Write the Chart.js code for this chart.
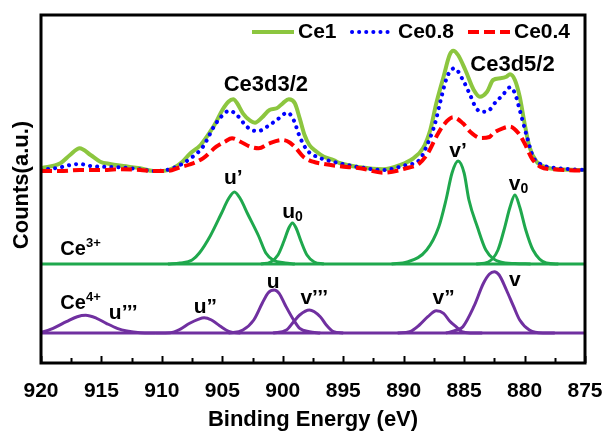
<!DOCTYPE html>
<html><head><meta charset="utf-8">
<script src="https://cdn.jsdelivr.net/npm/chart.js@4.4.0/dist/chart.umd.min.js"></script>
<style>html,body{margin:0;padding:0;background:#fff;}canvas{display:block;}</style>
</head><body>
<canvas id="c" width="604" height="431"></canvas>
<script>
const FONT = "'Liberation Sans', Arial, sans-serif";
const xTickLabels = [920, 915, 910, 905, 900, 895, 890, 885, 880, 875];

// Top spectra (stacked offset, arbitrary units)
const ce1Energy = [920, 918.4, 917.6, 916.8, 915.9, 915.1, 914.3, 913.2, 911.8, 910.7, 909.9, 909.1, 908.3, 907.7, 906.8, 906.0, 905.5, 905.0, 904.5, 904.1, 903.8, 903.3, 902.7, 902.3, 901.7, 901.1, 900.5, 900.0, 899.5, 899.0, 898.6, 898.2, 897.8, 897.2, 896.6, 895.8, 895.3, 893.6, 891.7, 890.3, 889.2, 888.4, 887.8, 887.3, 886.7, 886.2, 885.9, 885.5, 884.9, 884.2, 883.7, 883.1, 882.6, 882.0, 881.5, 881.2, 880.8, 880.4, 880.0, 879.6, 879.0, 878.2, 877.1, 875];
const ce1Counts = [194.7, 199.7, 208, 214.7, 208, 201.3, 199, 197, 194.7, 192, 192, 194.7, 201.3, 209, 218, 231.3, 241.3, 253, 261.3, 263.7, 260.3, 249.7, 242.3, 240.3, 245.7, 253, 254.7, 259.7, 263.7, 259.7, 244.7, 228, 218, 211.3, 206.3, 203, 200, 195.7, 193.7, 198, 204.7, 214.7, 233, 259.7, 286.3, 308, 312.3, 308, 293, 273, 266.3, 271.3, 283, 284.7, 286.3, 288.7, 283, 266.3, 239.7, 216.3, 201.3, 195.7, 193.7, 193];

const ce08Energy = [920, 918.4, 917.6, 916.8, 915.9, 915.1, 913.5, 911.8, 910.7, 909.6, 908.5, 907.7, 906.6, 905.7, 905.1, 904.4, 903.8, 903.1, 902.6, 902.0, 901.3, 900.5, 899.6, 899.1, 898.6, 898.0, 897.2, 896.4, 895.3, 893.6, 891.7, 889.8, 888.7, 888.0, 887.4, 887.0, 886.4, 885.8, 885.1, 884.5, 884.0, 883.5, 882.9, 882.6, 881.8, 881.2, 880.8, 880.4, 879.8, 879.3, 878.5, 877.1, 875];
const ce08Counts = [193, 195.7, 198, 199, 197, 196.3, 195.7, 193.7, 192, 193, 198, 204, 216.3, 236.3, 246.3, 252.3, 248, 238, 233, 232, 236.3, 243, 250.3, 243, 226.3, 213, 206.3, 203, 199.7, 195.7, 193, 198, 203, 219.7, 239.7, 259.7, 286.3, 294.7, 283, 268, 254.7, 251.3, 253, 258, 268, 275.7, 269.7, 253, 226.3, 206.3, 198, 194.7, 193];

const ce04Energy = [920, 918.4, 916.8, 915.1, 913.5, 911.8, 910.7, 909.6, 908.5, 907.7, 906.6, 905.5, 904.8, 904.2, 903.5, 902.7, 902.0, 901.1, 900.0, 899.4, 898.9, 898.3, 897.5, 896.6, 895.3, 893.6, 891.7, 889.8, 888.7, 888.0, 887.3, 886.7, 885.9, 885.1, 884.5, 883.6, 882.9, 882.6, 881.8, 881.2, 880.5, 880.0, 879.4, 878.7, 877.6, 875];
const ce04Counts = [192, 192, 193, 193, 193.7, 193, 192, 192, 195.7, 198.5, 204.7, 216.3, 221.3, 224.7, 221.3, 216.3, 214.7, 219.7, 223, 220.3, 214.7, 206.3, 201.3, 199, 196.7, 194.7, 190.3, 194.7, 199.7, 209.7, 226.3, 238, 245.7, 239.7, 231.3, 225, 226, 229.7, 234.7, 236.3, 229.7, 219.7, 204.7, 196.3, 193.7, 192.3];

// Ce3+ components
const ce3Base = 99;
const uPrimeEnergy = [909.5, 908.5, 907.5, 906.9, 906.0, 905.1, 904.5, 904.0, 903.5, 902.9, 902.0, 901.4, 900.8, 899.8, 899.0];
const uPrimeCounts = [99, 100, 103, 110, 127, 149, 164, 171, 164, 149, 127, 110, 103, 100, 99];
const u0Energy = [901.8, 901.0, 900.4, 899.9, 899.5, 899.2, 898.9, 898.5, 898.0, 897.4, 896.6];
const u0Counts = [99, 101, 108, 122, 135, 140, 135, 122, 108, 101, 99];
const vPrimeEnergy = [891, 889.7, 888.1, 887.1, 886.5, 886.0, 885.5, 885.0, 884.6, 883.9, 883.2, 882.0, 880.8, 879.5];
const vPrimeCounts = [99, 101, 113, 136, 163, 190, 202, 190, 163, 136, 113, 101, 99.5, 99];
const v0Energy = [884, 883.0, 882.2, 881.7, 881.2, 880.8, 880.4, 879.9, 879.3, 878.2, 877.2];
const v0Counts = [99, 101, 113, 133, 156, 168, 156, 133, 113, 100, 99];

// Ce4+ components
const ce4Base = 30;
const u3Energy = [920, 919.8, 919.0, 917.9, 917.0, 916.3, 915.4, 914.6, 913.7, 912.9, 911.8, 910.5];
const u3Counts = [31, 31.3, 34.7, 41.3, 46.3, 47.7, 44.7, 39.7, 34.7, 32, 30.3, 30];
const u2Energy = [910.5, 909.3, 908.5, 907.7, 907.0, 906.5, 905.9, 905.2, 904.4, 903.5];
const u2Counts = [30, 30.3, 33.7, 39.7, 43.7, 45.3, 43, 37, 31.3, 30];
const uEnergy = [904.5, 903.3, 902.4, 901.7, 901.2, 900.7, 900.3, 899.8, 899.1, 898.6, 897.8, 896.9];
const uCounts = [30, 33, 43, 59.7, 70.3, 73, 69.7, 58, 43, 34.7, 31.3, 30];
const v3Energy = [900.8, 899.7, 899.1, 898.6, 897.8, 896.9, 896.4, 895.8, 895.0];
const v3Counts = [30, 33, 41.3, 48, 53, 46.3, 38, 31.3, 30];
const v2Energy = [890.5, 889.5, 888.7, 888.0, 887.3, 886.7, 886.2, 885.6, 885.2, 884.5, 883.5];
const v2Counts = [30, 31.3, 38, 46.3, 52.3, 49.7, 42, 35.7, 31.3, 30, 30];
const vEnergy = [886.5, 885.6, 885.1, 884.2, 883.4, 882.9, 882.5, 882.1, 881.5, 880.9, 880.4, 879.6, 878.5, 877.5];
const vCounts = [30, 33, 36.3, 56.3, 79.7, 89, 91.3, 88, 73, 56.3, 43, 33, 30, 30];

const seriesNames = ['Ce1', 'Ce0.8', 'Ce0.4'];

const C_CE1 = '#8cc63f', C_BLUE = '#0000ff', C_RED = '#ff0000', C_G3 = '#1fa84d', C_P4 = '#7030a0';

function pts(xs, ys) { return xs.map((x, i) => ({ x: x, y: ys[i] })); }
function comp(xs, ys, color) {
  return { data: pts(xs, ys), borderColor: color, borderWidth: 3, pointRadius: 0, fill: false,
           cubicInterpolationMode: 'monotone', showLine: true };
}

const datasets = [
  { label: seriesNames[2], data: pts(ce04Energy, ce04Counts), borderColor: C_RED, borderWidth: 4, borderDash: [11, 5],
    pointRadius: 0, cubicInterpolationMode: 'monotone', fill: false },
  { label: seriesNames[1], data: pts(ce08Energy, ce08Counts), borderColor: C_BLUE, borderWidth: 4, borderDash: [0.1, 7],
    borderCapStyle: 'round', pointRadius: 0, cubicInterpolationMode: 'monotone', fill: false },
  { label: seriesNames[0], data: pts(ce1Energy, ce1Counts), borderColor: C_CE1, borderWidth: 4,
    pointRadius: 0, cubicInterpolationMode: 'monotone', fill: false },
  comp([920, 875], [ce3Base, ce3Base], C_G3),
  comp(uPrimeEnergy, uPrimeCounts, C_G3),
  comp(u0Energy, u0Counts, C_G3),
  comp(vPrimeEnergy, vPrimeCounts, C_G3),
  comp(v0Energy, v0Counts, C_G3),
  comp([920, 875], [ce4Base, ce4Base], C_P4),
  comp(u3Energy, u3Counts, C_P4),
  comp(u2Energy, u2Counts, C_P4),
  comp(uEnergy, uCounts, C_P4),
  comp(v3Energy, v3Counts, C_P4),
  comp(v2Energy, v2Counts, C_P4),
  comp(vEnergy, vCounts, C_P4)
];

// annotation texts anchored in data coordinates
const notes = [
  { parts: [['Ce3d3/2', 22]], x: 901.4, y: 278, align: 'center' },
  { parts: [['Ce3d5/2', 22]], x: 881.0, y: 298, align: 'center' },
  { parts: [['u\u2019', 21]], x: 904.1, y: 185, align: 'center' },
  { parts: [['u', 21], ['0', 14, 5]], x: 899.2, y: 151, align: 'center' },
  { parts: [['v\u2019', 21]], x: 885.5, y: 212, align: 'center' },
  { parts: [['v', 21], ['0', 14, 5]], x: 880.5, y: 179, align: 'center' },
  { parts: [['Ce', 20], ['3+', 13, -6]], x: 918.4, y: 114, align: 'left' },
  { parts: [['Ce', 20], ['4+', 13, -6]], x: 918.4, y: 60, align: 'left' },
  { parts: [['u\u2019\u2019\u2019', 21]], x: 913.2, y: 50, align: 'center' },
  { parts: [['u\u201d', 21]], x: 906.4, y: 56, align: 'center' },
  { parts: [['u', 21]], x: 900.8, y: 81, align: 'center' },
  { parts: [['v\u2019\u2019\u2019', 21]], x: 897.4, y: 65, align: 'center' },
  { parts: [['v\u201d', 21]], x: 886.7, y: 65, align: 'center' },
  { parts: [['v', 21]], x: 880.8, y: 83, align: 'center' }
];

function bold(sz) { return 'bold ' + sz + 'px ' + FONT; }

function drawParts(ctx, parts, px, py, align) {
  let w = 0;
  parts.forEach(p => { ctx.font = bold(p[1]); w += ctx.measureText(p[0]).width; });
  let cx = align === 'center' ? px - w / 2 : px;
  ctx.textAlign = 'left'; ctx.textBaseline = 'middle';
  parts.forEach(p => {
    ctx.font = bold(p[1]);
    ctx.fillText(p[0], cx, py + (p[2] || 0));
    cx += ctx.measureText(p[0]).width;
  });
}

const decor = {
  id: 'decor',
  afterDraw(chart) {
    const { ctx, chartArea: a, scales: { x, y } } = chart;
    ctx.save();
    ctx.fillStyle = '#000'; ctx.strokeStyle = '#000';
    // frame
    ctx.lineWidth = 3;
    ctx.strokeRect(a.left, a.top, a.right - a.left, a.bottom - a.top);
    // inward ticks
    ctx.lineWidth = 2;
    for (let v = x.min; v <= x.max + 0.01; v += 2.5) {
      const px = Math.round(x.getPixelForValue(v)) + 0.5;
      const len = (Math.abs(v % 5) < 0.01) ? 7 : 5;
      ctx.beginPath(); ctx.moveTo(px, a.bottom); ctx.lineTo(px, a.bottom - len); ctx.stroke();
    }
    // notes
    notes.forEach(n => drawParts(ctx, n.parts, x.getPixelForValue(n.x), y.getPixelForValue(n.y), n.align));
    // legend
    const legendItems = [
      { ds: chart.data.datasets[2], x0: 252 },
      { ds: chart.data.datasets[1], x0: 352 },
      { ds: chart.data.datasets[0], x0: 468 }
    ];
    const ly = a.top + 17;
    legendItems.forEach(it => {
      const ds = it.ds;
      ctx.save();
      ctx.strokeStyle = ds.borderColor; ctx.lineWidth = ds.borderWidth;
      ctx.setLineDash(ds.borderDash || []);
      ctx.lineCap = ds.borderCapStyle || 'butt';
      ctx.beginPath(); ctx.moveTo(it.x0, ly); ctx.lineTo(it.x0 + 42, ly); ctx.stroke();
      ctx.restore();
      ctx.font = bold(21); ctx.textAlign = 'left'; ctx.textBaseline = 'middle';
      ctx.fillText(ds.label, it.x0 + 46, ly);
    });
    // axis titles
    ctx.font = bold(22); ctx.textAlign = 'center'; ctx.textBaseline = 'middle';
    ctx.fillText('Binding Energy (eV)', (a.left + a.right) / 2, 420);
    ctx.save();
    ctx.translate(22, 185); ctx.rotate(-Math.PI / 2);
    ctx.fillText('Counts(a.u.)', 0, 0);
    ctx.restore();
    ctx.restore();
  }
};

new Chart(document.getElementById('c'), {
  type: 'line',
  data: { datasets: datasets },
  options: {
    responsive: false, animation: false, devicePixelRatio: 1,
    layout: { padding: { left: 41, right: 19, top: 15, bottom: 0 } },
    plugins: { legend: { display: false }, tooltip: { enabled: false } },
    elements: { point: { radius: 0 }, line: { tension: 0 } },
    scales: {
      x: {
        type: 'linear', reverse: true, min: 875, max: 920,
        afterFit: s => { s.height = 68; s.paddingLeft = 0; s.paddingRight = 0; },
        afterBuildTicks: s => { s.ticks = xTickLabels.map(v => ({ value: v })); },
        grid: { display: false, drawTicks: false }, border: { display: false },
        ticks: { padding: 16, color: '#000', autoSkip: false, maxRotation: 0,
                 font: { family: FONT, size: 21, weight: 'bold' } }
      },
      y: { display: false, min: 0, max: 348 }
    }
  },
  plugins: [decor]
});
</script>
</body></html>
